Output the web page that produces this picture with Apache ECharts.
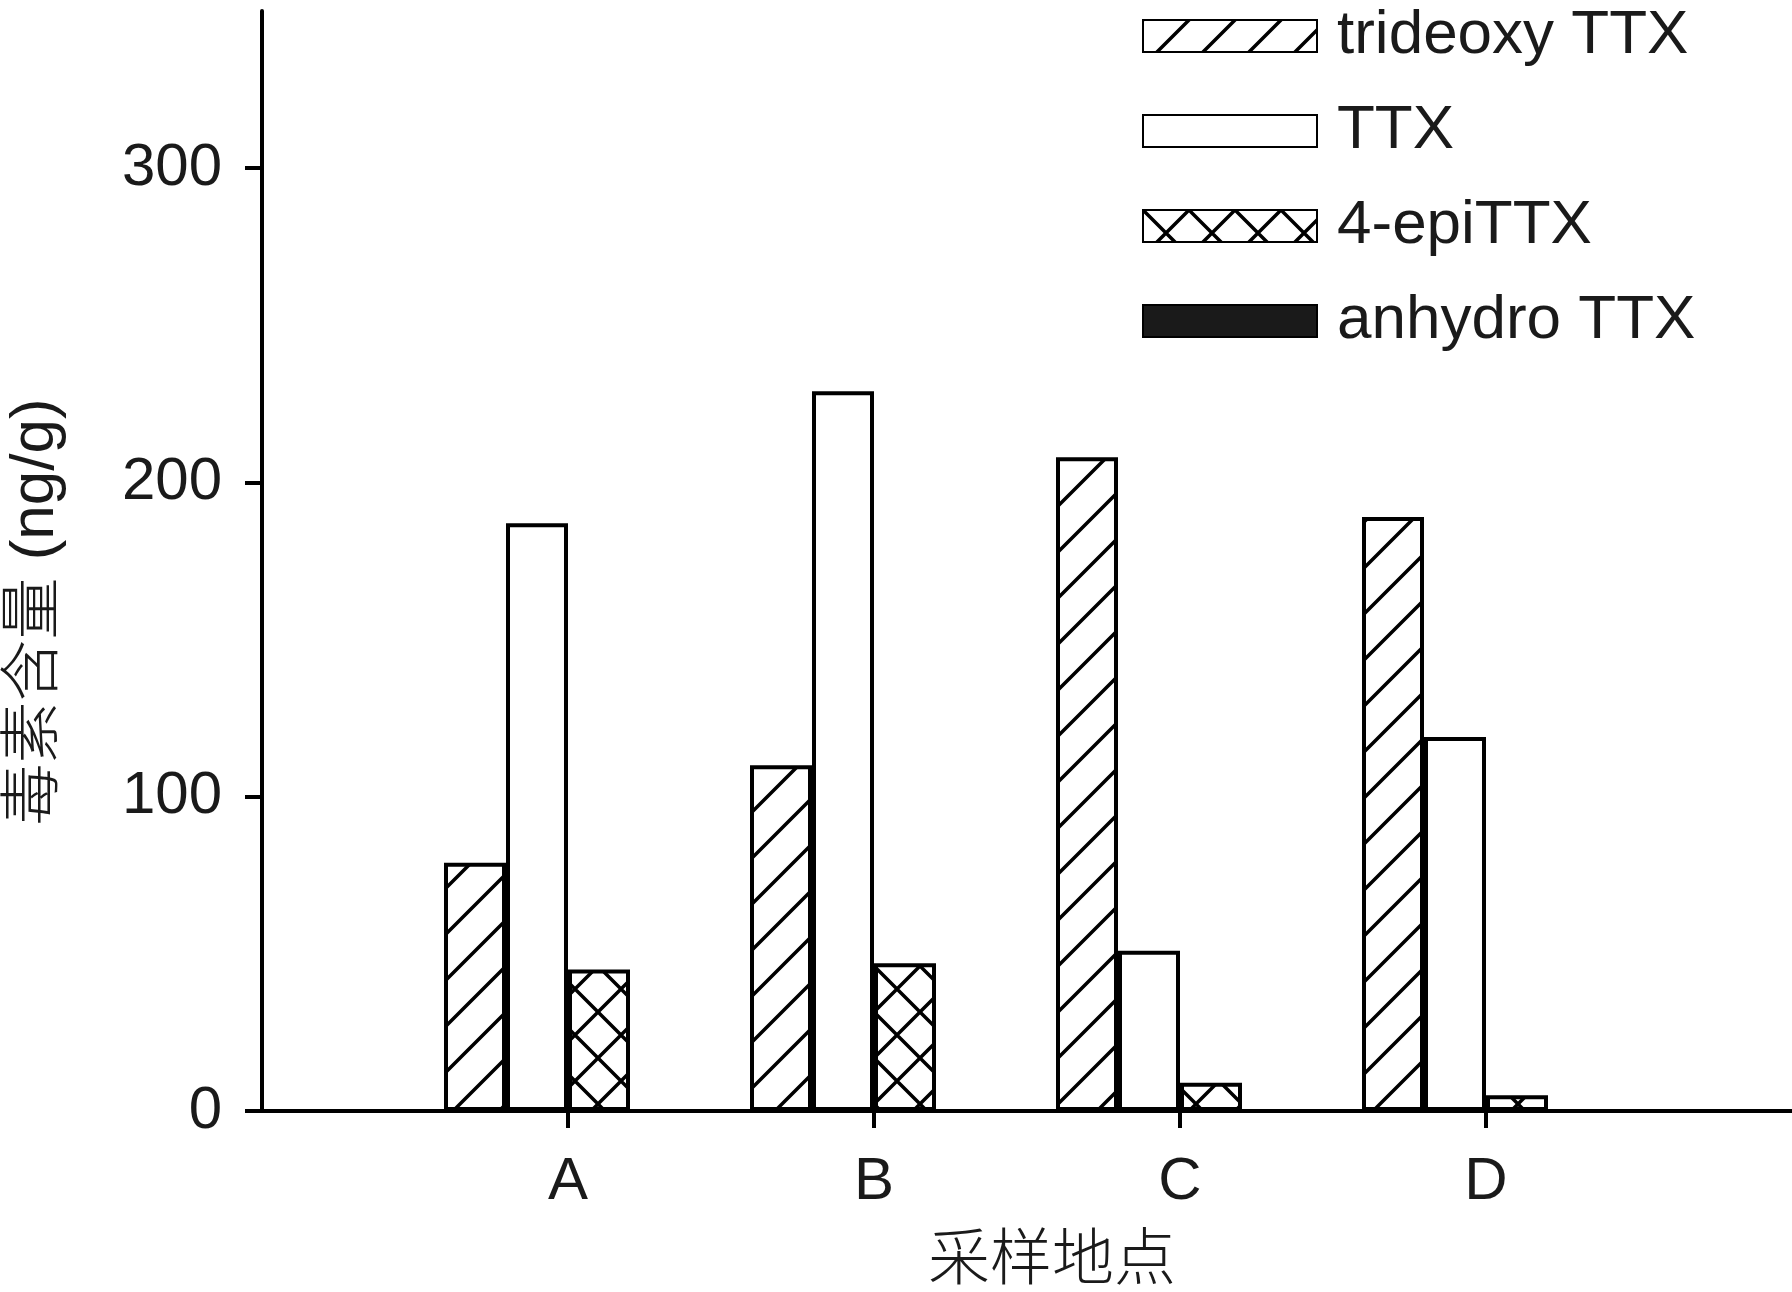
<!DOCTYPE html>
<html>
<head>
<meta charset="utf-8">
<title>毒素含量</title>
<script src="https://cdn.jsdelivr.net/npm/echarts@6.0.0/dist/echarts.min.js"></script>
<style>
  html, body { margin: 0; padding: 0; background: #fff; }
  #main { width: 1792px; height: 1292px; }
</style>
</head>
<body>
<div id="main"></div>
<script>
// 采样地点
var sites = ['A', 'B', 'C', 'D'];
// 各毒素含量 (ng/g)
var trideoxyTTX = [79, 110, 208, 189];
var TTX = [187, 229, 51, 119];
var epiTTX = [45, 47, 9, 5];
var anhydroTTX = [0, 0, 0, 0];
var yTicks = [0, 100, 200, 300];

var FONT = '"Liberation Sans", "Noto Sans CJK SC", sans-serif';

// 斜线 / 交叉线 填充
function hatch(size, cross) {
    var c = document.createElement('canvas');
    c.width = size;
    c.height = size;
    var g = c.getContext('2d');
    g.fillStyle = '#fff';
    g.fillRect(0, 0, size, size);
    g.strokeStyle = '#000';
    g.lineWidth = 3.5;
    g.beginPath();
    g.moveTo(0, size); g.lineTo(size, 0);
    g.moveTo(-3, 3); g.lineTo(3, -3);
    g.moveTo(size - 3, size + 3); g.lineTo(size + 3, size - 3);
    if (cross) {
        g.moveTo(0, 0); g.lineTo(size, size);
        g.moveTo(size - 3, -3); g.lineTo(size + 3, 3);
        g.moveTo(-3, size - 3); g.lineTo(3, size + 3);
    }
    g.stroke();
    return { image: c, repeat: 'repeat' };
}

// 两端留空的类目轴
var axisCats = [''].concat(sites, ['']);
function pad(arr) {
    return [null].concat(arr, [null]);
}

function barSeries(name, data, fill) {
    return {
        name: name,
        type: 'bar',
        data: pad(data),
        barWidth: 62,
        barGap: '0%',
        itemStyle: {
            color: fill,
            borderColor: '#000',
            borderWidth: 4
        }
    };
}

var chart = echarts.init(document.getElementById('main'));
chart.setOption({
    animation: false,
    backgroundColor: '#fff',
    textStyle: { fontFamily: FONT },
    grid: {
        left: 262,
        right: 0,
        top: 11,
        bottom: 181,
        containLabel: false,
        outerBoundsMode: 'none'
    },
    legend: {
        orient: 'vertical',
        left: 1137,
        top: 0,
        icon: 'rect',
        itemWidth: 174,
        itemHeight: 32,
        itemGap: 33,
        selectedMode: false,
        textStyle: {
            fontFamily: FONT,
            fontSize: 62,
            color: '#1a1a1a',
            padding: [0, 0, 0, 15]
        }
    },
    xAxis: {
        type: 'category',
        data: axisCats,
        boundaryGap: false,
        name: '采样地点',
        nameLocation: 'middle',
        nameGap: 114,
        nameTextStyle: {
            fontFamily: '"Noto Sans CJK SC", sans-serif',
            fontWeight: 300,
            fontSize: 62,
            color: '#1a1a1a',
            padding: [0, 0, 0, 50]
        },
        axisLine: { lineStyle: { color: '#000', width: 4 } },
        axisTick: {
            show: true,
            length: 17,
            interval: function (index) { return index > 0 && index < axisCats.length - 1; },
            lineStyle: { color: '#000', width: 4 }
        },
        axisLabel: {
            fontFamily: FONT,
            fontSize: 60,
            color: '#1a1a1a',
            margin: 41,
            interval: 0
        },
        splitLine: { show: false }
    },
    yAxis: {
        type: 'value',
        min: 0,
        max: 350,
        name: '毒素含量 (ng/g)',
        nameLocation: 'middle',
        nameGap: 195,
        nameTextStyle: {
            fontFamily: FONT,
            fontWeight: 300,
            fontSize: 62,
            color: '#1a1a1a',
            padding: [0, 102, 0, 0]
        },
        axisLine: { show: true, lineStyle: { color: '#000', width: 4 } },
        axisTick: {
            show: true,
            length: 17,
            customValues: yTicks,
            lineStyle: { color: '#000', width: 4 }
        },
        axisLabel: {
            fontFamily: FONT,
            fontSize: 60,
            color: '#1a1a1a',
            margin: 40,
            customValues: yTicks
        },
        splitLine: { show: false }
    },
    series: [
        barSeries('trideoxy TTX', trideoxyTTX, hatch(46, false)),
        barSeries('TTX', TTX, '#fff'),
        barSeries('4-epiTTX', epiTTX, hatch(46, true)),
        barSeries('anhydro TTX', anhydroTTX, '#1a1a1a')
    ]
});
</script>
</body>
</html>
